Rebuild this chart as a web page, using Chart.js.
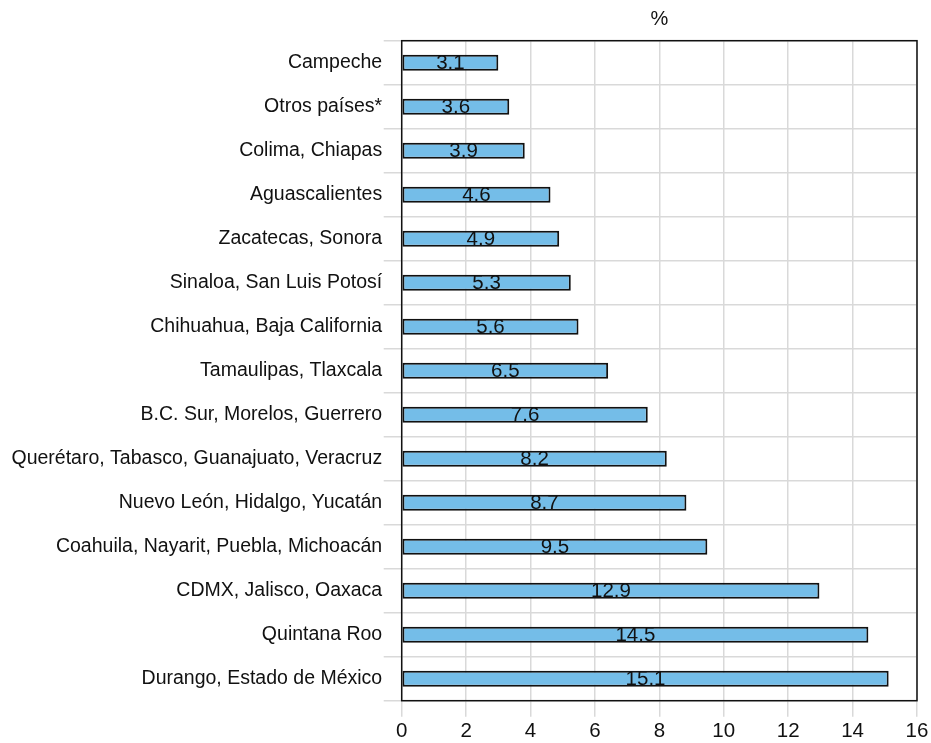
<!DOCTYPE html>
<html>
<head>
<meta charset="utf-8">
<script src="https://cdn.jsdelivr.net/npm/chart.js@4/dist/chart.umd.min.js"></script>
<style>
  html, body { margin: 0; padding: 0; background: #ffffff; }
  canvas { display: block; }
</style>
</head>
<body>
<canvas id="c" width="931" height="743"></canvas>
<script>
const categories = [
  "Campeche",
  "Otros países*",
  "Colima, Chiapas",
  "Aguascalientes",
  "Zacatecas, Sonora",
  "Sinaloa, San Luis Potosí",
  "Chihuahua, Baja California",
  "Tamaulipas, Tlaxcala",
  "B.C. Sur, Morelos, Guerrero",
  "Querétaro, Tabasco, Guanajuato, Veracruz",
  "Nuevo León, Hidalgo, Yucatán",
  "Coahuila, Nayarit, Puebla, Michoacán",
  "CDMX, Jalisco, Oaxaca",
  "Quintana Roo",
  "Durango, Estado de México"
];
// bar lengths as drawn in the picture
const barValues = [3.0, 3.34, 3.82, 4.62, 4.89, 5.25, 5.49, 6.41, 7.64, 8.23, 8.84, 9.49, 12.97, 14.49, 15.12];
// value labels printed on the bars
const valueLabels = ["3.1", "3.6", "3.9", "4.6", "4.9", "5.3", "5.6", "6.5", "7.6", "8.2", "8.7", "9.5", "12.9", "14.5", "15.1"];
const xMin = 0;
const xMax = 16;
const xStep = 2;
const unitTitle = "%";

const FONT = "'Liberation Sans', Arial, Helvetica, sans-serif";

const frameBorder = {
  id: 'frameBorder',
  beforeDatasetsDraw(chart) {
    const a = chart.chartArea, ctx = chart.ctx;
    ctx.save();
    ctx.strokeStyle = '#111111';
    ctx.lineWidth = 1.5;
    ctx.strokeRect(a.left, a.top, a.right - a.left, a.bottom - a.top);
    ctx.restore();
  }
};

const barLabels = {
  id: 'barLabels',
  afterDatasetsDraw(chart) {
    const ctx = chart.ctx;
    const meta = chart.getDatasetMeta(0);
    ctx.save();
    ctx.font = '20.5px ' + FONT;
    ctx.fillStyle = '#111111';
    ctx.textAlign = 'center';
    ctx.textBaseline = 'middle';
    meta.data.forEach((el, i) => {
      const cx = (el.x + el.base) / 2;
      ctx.fillText(valueLabels[i], cx, el.y + 1);
    });
    ctx.restore();
  }
};

new Chart(document.getElementById('c'), {
  type: 'bar',
  data: {
    labels: categories,
    datasets: [{
      data: barValues,
      backgroundColor: '#74BDE8',
      borderColor: '#111111',
      borderWidth: 2,
      borderSkipped: false,
      barPercentage: 0.364,
      categoryPercentage: 1.0
    }]
  },
  options: {
    indexAxis: 'y',
    responsive: false,
    animation: false,
    devicePixelRatio: 1,
    layout: { padding: { left: 0, right: 14, top: 0, bottom: 0 } },
    plugins: {
      legend: { display: false },
      tooltip: { enabled: false },
      title: {
        display: true,
        text: unitTitle,
        fullSize: false,
        align: 'center',
        color: '#111111',
        font: { family: FONT, size: 20, weight: 'normal', lineHeight: 1.2 },
        padding: { top: 7.7, bottom: 9 }
      }
    },
    scales: {
      x: {
        type: 'linear',
        min: xMin,
        max: xMax,
        afterFit(scale) { scale.height = 42.3; },
        ticks: {
          stepSize: xStep,
          color: '#111111',
          font: { family: FONT, size: 20.5 },
          padding: 2,
          maxRotation: 0
        },
        grid: {
          color: '#d9d9d9',
          lineWidth: 1.5,
          tickLength: 16,
          drawTicks: true
        },
        border: { display: false }
      },
      y: {
        afterFit(scale) { scale.width = 401.7; },
        ticks: {
          color: '#111111',
          font: { family: FONT, size: 19.5 },
          padding: 1.5,
          autoSkip: false
        },
        grid: {
          offset: true,
          color: '#d9d9d9',
          lineWidth: 1.5,
          tickLength: 18,
          drawTicks: true
        },
        border: { display: false }
      }
    }
  },
  plugins: [frameBorder, barLabels]
});
</script>
</body>
</html>
